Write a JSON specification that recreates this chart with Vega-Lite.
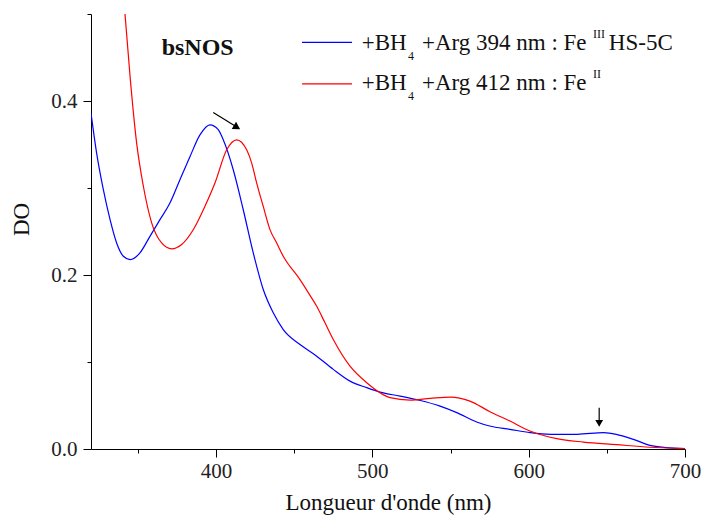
{
  "$schema": "https://vega.github.io/schema/vega-lite/v6.json",
  "width": 594,
  "height": 435,
  "autosize": "none",
  "padding": {"left": 91, "top": 14, "right": 20, "bottom": 66},
  "background": "white",
  "config": {"view": {"stroke": null}, "font": "Liberation Serif, serif"},
  "datasets": {
    "spectra": [
      {"nm": 320, "DO": 0.386, "series": "Fe III"},
      {"nm": 323.6, "DO": 0.34, "series": "Fe III"},
      {"nm": 327.9, "DO": 0.298, "series": "Fe III"},
      {"nm": 332.2, "DO": 0.2636, "series": "Fe III"},
      {"nm": 336.4, "DO": 0.2368, "series": "Fe III"},
      {"nm": 340.7, "DO": 0.2215, "series": "Fe III"},
      {"nm": 345, "DO": 0.2177, "series": "Fe III"},
      {"nm": 351.3, "DO": 0.2254, "series": "Fe III"},
      {"nm": 357.7, "DO": 0.2444, "series": "Fe III"},
      {"nm": 364.1, "DO": 0.2636, "series": "Fe III"},
      {"nm": 370.5, "DO": 0.2827, "series": "Fe III"},
      {"nm": 376.9, "DO": 0.3095, "series": "Fe III"},
      {"nm": 383.3, "DO": 0.336, "series": "Fe III"},
      {"nm": 389.7, "DO": 0.361, "series": "Fe III"},
      {"nm": 396.1, "DO": 0.3726, "series": "Fe III"},
      {"nm": 401.4, "DO": 0.367, "series": "Fe III"},
      {"nm": 404.6, "DO": 0.3554, "series": "Fe III"},
      {"nm": 411, "DO": 0.321, "series": "Fe III"},
      {"nm": 417.4, "DO": 0.275, "series": "Fe III"},
      {"nm": 423.8, "DO": 0.2254, "series": "Fe III"},
      {"nm": 430.2, "DO": 0.1833, "series": "Fe III"},
      {"nm": 436.6, "DO": 0.1565, "series": "Fe III"},
      {"nm": 443, "DO": 0.1373, "series": "Fe III"},
      {"nm": 453.7, "DO": 0.1201, "series": "Fe III"},
      {"nm": 464.4, "DO": 0.1067, "series": "Fe III"},
      {"nm": 475, "DO": 0.0915, "series": "Fe III"},
      {"nm": 485.7, "DO": 0.078, "series": "Fe III"},
      {"nm": 496.4, "DO": 0.0705, "series": "Fe III"},
      {"nm": 504.9, "DO": 0.0654, "series": "Fe III"},
      {"nm": 517.7, "DO": 0.0608, "series": "Fe III"},
      {"nm": 530, "DO": 0.056, "series": "Fe III"},
      {"nm": 543.3, "DO": 0.0493, "series": "Fe III"},
      {"nm": 554, "DO": 0.0418, "series": "Fe III"},
      {"nm": 566.7, "DO": 0.031, "series": "Fe III"},
      {"nm": 575, "DO": 0.0264, "series": "Fe III"},
      {"nm": 588, "DO": 0.0226, "series": "Fe III"},
      {"nm": 601, "DO": 0.0188, "series": "Fe III"},
      {"nm": 614, "DO": 0.0169, "series": "Fe III"},
      {"nm": 631, "DO": 0.0169, "series": "Fe III"},
      {"nm": 648, "DO": 0.0188, "series": "Fe III"},
      {"nm": 656, "DO": 0.0169, "series": "Fe III"},
      {"nm": 667, "DO": 0.0111, "series": "Fe III"},
      {"nm": 677.6, "DO": 0.0042, "series": "Fe III"},
      {"nm": 688, "DO": 0.0016, "series": "Fe III"},
      {"nm": 700, "DO": 0.0005, "series": "Fe III"},
      {"nm": 341.7, "DO": 0.501, "series": "Fe II"},
      {"nm": 345, "DO": 0.428, "series": "Fe II"},
      {"nm": 349.2, "DO": 0.3516, "series": "Fe II"},
      {"nm": 353.5, "DO": 0.302, "series": "Fe II"},
      {"nm": 358.8, "DO": 0.26, "series": "Fe II"},
      {"nm": 365.2, "DO": 0.2368, "series": "Fe II"},
      {"nm": 371.6, "DO": 0.23, "series": "Fe II"},
      {"nm": 378, "DO": 0.235, "series": "Fe II"},
      {"nm": 385.4, "DO": 0.252, "series": "Fe II"},
      {"nm": 392.9, "DO": 0.279, "series": "Fe II"},
      {"nm": 399.3, "DO": 0.3057, "series": "Fe II"},
      {"nm": 406.8, "DO": 0.3439, "series": "Fe II"},
      {"nm": 413.2, "DO": 0.3554, "series": "Fe II"},
      {"nm": 419.6, "DO": 0.3439, "series": "Fe II"},
      {"nm": 422.8, "DO": 0.3286, "series": "Fe II"},
      {"nm": 426, "DO": 0.3057, "series": "Fe II"},
      {"nm": 430.2, "DO": 0.2788, "series": "Fe II"},
      {"nm": 434.5, "DO": 0.2522, "series": "Fe II"},
      {"nm": 438.8, "DO": 0.2368, "series": "Fe II"},
      {"nm": 443, "DO": 0.2215, "series": "Fe II"},
      {"nm": 453.7, "DO": 0.1947, "series": "Fe II"},
      {"nm": 459.1, "DO": 0.1795, "series": "Fe II"},
      {"nm": 464.4, "DO": 0.164, "series": "Fe II"},
      {"nm": 469.7, "DO": 0.145, "series": "Fe II"},
      {"nm": 475, "DO": 0.1259, "series": "Fe II"},
      {"nm": 485.7, "DO": 0.0952, "series": "Fe II"},
      {"nm": 496.4, "DO": 0.0762, "series": "Fe II"},
      {"nm": 504.9, "DO": 0.0647, "series": "Fe II"},
      {"nm": 511.3, "DO": 0.059, "series": "Fe II"},
      {"nm": 524, "DO": 0.0562, "series": "Fe II"},
      {"nm": 537, "DO": 0.0582, "series": "Fe II"},
      {"nm": 550, "DO": 0.0597, "series": "Fe II"},
      {"nm": 562.4, "DO": 0.0551, "series": "Fe II"},
      {"nm": 575.2, "DO": 0.0429, "series": "Fe II"},
      {"nm": 588, "DO": 0.0321, "series": "Fe II"},
      {"nm": 600.8, "DO": 0.0207, "series": "Fe II"},
      {"nm": 618, "DO": 0.0119, "series": "Fe II"},
      {"nm": 635, "DO": 0.008, "series": "Fe II"},
      {"nm": 656, "DO": 0.005, "series": "Fe II"},
      {"nm": 677.6, "DO": 0.002, "series": "Fe II"},
      {"nm": 700, "DO": 0.0005, "series": "Fe II"}
    ],
    "legendLines": [
      {"x": 455, "x2": 487, "y": 0.4675, "series": "Fe III"},
      {"x": 455, "x2": 487, "y": 0.4196, "series": "Fe II"}
    ],
    "legendMain": [
      {"x": 493.2, "y": 0.4586, "text": "+BH"},
      {"x": 531.7, "y": 0.4586, "text": "+Arg 394 nm : Fe"},
      {"x": 651.3, "y": 0.4586, "text": "HS-5C"},
      {"x": 493.2, "y": 0.4127, "text": "+BH"},
      {"x": 531.7, "y": 0.4127, "text": "+Arg 412 nm : Fe"}
    ],
    "legendSmall": [
      {"x": 522.8, "y": 0.4471, "text": "4"},
      {"x": 641.1, "y": 0.4725, "text": "III"},
      {"x": 522.8, "y": 0.4011, "text": "4"},
      {"x": 641.1, "y": 0.4264, "text": "II"}
    ],
    "title": [{"x": 365.2, "y": 0.4529, "text": "bsNOS"}],
    "arrowShafts": [
      {"x": 398.2, "y": 0.3867, "x2": 413.0, "y2": 0.3705},
      {"x": 645.1, "y": 0.0475, "x2": 645.1, "y2": 0.031}
    ],
    "arrowHead1": [{"x": 413.4, "y": 0.3698}],
    "arrowHead2": [{"x": 645.1, "y": 0.0295}]
  },
  "layer": [
    {
      "data": {"name": "spectra"},
      "mark": {"type": "line", "interpolate": "monotone", "strokeWidth": 1.2, "clip": true},
      "encoding": {
        "x": {
          "field": "nm", "type": "quantitative",
          "scale": {"domain": [320, 700], "nice": false, "zero": false},
          "axis": {
            "values": [350, 400, 450, 500, 550, 600, 650, 700],
            "labelExpr": "datum.value % 100 == 0 ? datum.label : ''",
            "tickSize": {"condition": {"test": "datum.value % 100 == 0", "value": 8}, "value": 4},
            "grid": false, "domainColor": "black", "tickColor": "black",
            "labelFont": "Liberation Serif, serif", "labelFontSize": 21, "labelColor": "#222",
            "labelPadding": 3, "labelFlush": false, "labelOverlap": false,
            "title": "Longueur d'onde (nm)", "titleFont": "Liberation Serif, serif",
            "titleFontSize": 23, "titleFontWeight": "normal", "titleColor": "#111",
            "titleBaseline": "alphabetic", "titleY": 60
          }
        },
        "y": {
          "field": "DO", "type": "quantitative",
          "scale": {"domain": [0, 0.5], "nice": false},
          "axis": {
            "values": [0, 0.1, 0.2, 0.3, 0.4, 0.5],
            "labelExpr": "(datum.value == 0 || datum.value == 0.2 || datum.value == 0.4) ? format(datum.value, '.1f') : ''",
            "tickSize": {"condition": {"test": "datum.value == 0 || datum.value == 0.2 || datum.value == 0.4", "value": 8}, "value": 4},
            "grid": false, "domainColor": "black", "tickColor": "black",
            "labelFont": "Liberation Serif, serif", "labelFontSize": 21, "labelColor": "#222",
            "labelPadding": 6, "labelFlush": false, "labelOverlap": false,
            "title": "DO", "titleFont": "Liberation Serif, serif", "titleFontSize": 23,
            "titleFontWeight": "normal", "titleColor": "#111",
            "titleAngle": -90, "titleAlign": "center", "titleBaseline": "alphabetic",
            "titleX": -63, "titleY": 205
          }
        },
        "color": {
          "field": "series", "type": "nominal",
          "scale": {"domain": ["Fe III", "Fe II"], "range": ["#0000ff", "#ff0000"]},
          "legend": null
        },
        "detail": {"field": "series"}
      }
    },
    {
      "data": {"name": "legendLines"},
      "mark": {"type": "rule", "strokeWidth": 1.2},
      "encoding": {
        "x": {"field": "x", "type": "quantitative"},
        "x2": {"field": "x2"},
        "y": {"field": "y", "type": "quantitative"},
        "color": {"field": "series", "type": "nominal", "legend": null}
      }
    },
    {
      "data": {"name": "legendMain"},
      "mark": {"type": "text", "align": "left", "baseline": "alphabetic", "font": "Liberation Serif, serif", "fontSize": 23, "color": "#111"},
      "encoding": {
        "x": {"field": "x", "type": "quantitative"},
        "y": {"field": "y", "type": "quantitative"},
        "text": {"field": "text"}
      }
    },
    {
      "data": {"name": "legendSmall"},
      "mark": {"type": "text", "align": "left", "baseline": "alphabetic", "font": "Liberation Serif, serif", "fontSize": 12, "color": "#111"},
      "encoding": {
        "x": {"field": "x", "type": "quantitative"},
        "y": {"field": "y", "type": "quantitative"},
        "text": {"field": "text"}
      }
    },
    {
      "data": {"name": "title"},
      "mark": {"type": "text", "align": "left", "baseline": "alphabetic", "font": "Liberation Serif, serif", "fontSize": 24, "fontWeight": "bold", "color": "#111"},
      "encoding": {
        "x": {"field": "x", "type": "quantitative"},
        "y": {"field": "y", "type": "quantitative"},
        "text": {"field": "text"}
      }
    },
    {
      "data": {"name": "arrowShafts"},
      "mark": {"type": "rule", "strokeWidth": 1.2, "color": "black"},
      "encoding": {
        "x": {"field": "x", "type": "quantitative"},
        "y": {"field": "y", "type": "quantitative"},
        "x2": {"field": "x2"},
        "y2": {"field": "y2"}
      }
    },
    {
      "data": {"name": "arrowHead1"},
      "mark": {"type": "point", "shape": "triangle-right", "angle": 31, "size": 70, "filled": true, "color": "black", "opacity": 1},
      "encoding": {
        "x": {"field": "x", "type": "quantitative"},
        "y": {"field": "y", "type": "quantitative"}
      }
    },
    {
      "data": {"name": "arrowHead2"},
      "mark": {"type": "point", "shape": "triangle-down", "size": 60, "filled": true, "color": "black", "opacity": 1},
      "encoding": {
        "x": {"field": "x", "type": "quantitative"},
        "y": {"field": "y", "type": "quantitative"}
      }
    }
  ]
}
